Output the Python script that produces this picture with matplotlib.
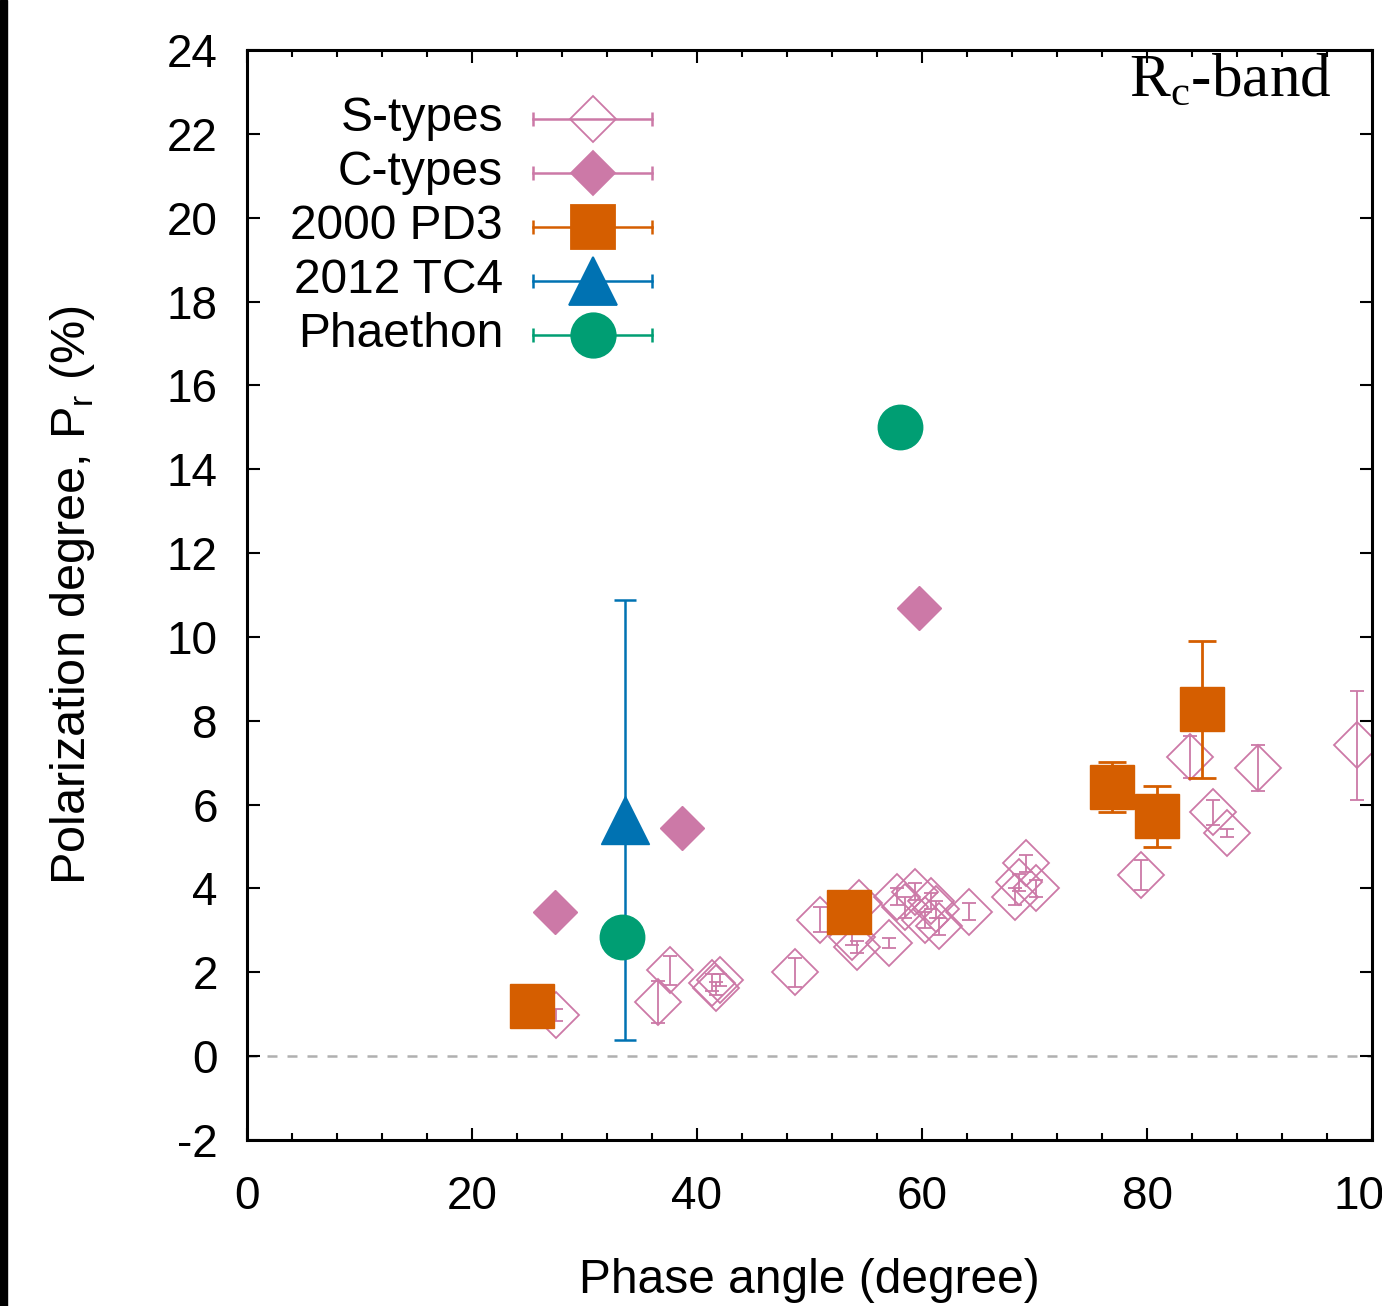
import matplotlib
matplotlib.use("Agg")
import matplotlib.pyplot as plt
from matplotlib.ticker import MultipleLocator
from matplotlib.patches import Rectangle

plt.rcParams['font.family'] = ['Liberation Sans', 'DejaVu Sans']
plt.rcParams['mathtext.fontset'] = 'custom'
plt.rcParams['mathtext.rm'] = 'Liberation Serif'
plt.rcParams['mathtext.sf'] = 'Liberation Sans'
plt.rcParams['axes.unicode_minus'] = False

# S-types (open diamonds)
s_phase = [27.5, 36.5, 37.6, 41.3, 41.7, 42.0, 48.7, 50.9, 54.4, 53.8, 54.2, 57.1,
           57.8, 58.5, 59.4, 60.3, 60.8, 61.2, 61.5, 64.2, 68.3, 68.6, 69.2, 70.1,
           79.5, 83.8, 85.9, 87.1, 89.9, 98.7]
s_pol = [0.98, 1.29, 2.05, 1.75, 1.62, 1.82, 2.0, 3.25, 3.65, 2.85, 2.6, 2.7,
         3.8, 3.55, 3.92, 3.25, 3.7, 3.5, 3.1, 3.45, 3.8, 4.15, 4.6, 4.0,
         4.32, 7.13, 5.82, 5.32, 6.87, 7.42]
s_err = [0.15, 0.5, 0.35, 0.2, 0.15, 0.15, 0.35, 0.3, 0.25, 0.2, 0.15, 0.12,
         0.2, 0.25, 0.2, 0.2, 0.2, 0.2, 0.2, 0.2, 0.2, 0.2, 0.2, 0.2,
         0.35, 0.5, 0.3, 0.1, 0.55, 1.3]

# C-types (filled diamonds)
c_phase = [27.4, 38.7, 59.7]
c_pol = [3.44, 5.44, 10.7]
c_err = [0.1, 0.1, 0.1]

# 2000 PD3
pd3_phase = [25.3, 53.5, 76.9, 80.9, 84.9]
pd3_pol = [1.19, 3.44, 6.42, 5.72, 8.27]
pd3_err = [0.15, 0.2, 0.6, 0.72, 1.64]

# 2012 TC4
tc4_phase = [33.6]
tc4_pol = [5.63]
tc4_err = [5.25]

# Phaethon
ph_phase = [33.3, 58.0]
ph_pol = [2.84, 15.0]
ph_err = [0.1, 0.1]

pink = '#cc79a7'
orange = '#d55e00'
blue = '#0072b2'
green = '#009e73'

fig = plt.figure(figsize=(13.82, 13.06), dpi=100)
ax = fig.add_axes([247 / 1382, 166 / 1306, 1125 / 1382, 1090 / 1306])
fig.patches.append(Rectangle((0, 0), 7 / 1382, 1, transform=fig.transFigure,
                             color='black', zorder=10))

ax.axhline(0, color='#b0b0b0', lw=1.8, ls=(0, (4, 4)), zorder=1)

ax.errorbar(s_phase, s_pol, yerr=s_err, fmt='D', ms=23, mfc='none', mec=pink, mew=1.3,
            ecolor=pink, elinewidth=1.3, capsize=5, capthick=1.3, zorder=2)
ax.errorbar(c_phase, c_pol, yerr=c_err, fmt='D', ms=22, mfc=pink, mec=pink,
            ecolor=pink, elinewidth=1.3, capsize=5, zorder=3)
ax.errorbar(pd3_phase, pd3_pol, yerr=pd3_err, fmt='s', ms=32, mfc=orange, mec=orange,
            ecolor=orange, elinewidth=2, capsize=10, capthick=2, zorder=4)
ax.errorbar(tc4_phase, tc4_pol, yerr=tc4_err, fmt='^', ms=35, mfc=blue, mec=blue,
            ecolor=blue, elinewidth=1.8, capsize=8, capthick=1.8, zorder=5)
ax.errorbar(ph_phase, ph_pol, yerr=ph_err, fmt='o', ms=32, mfc=green, mec=green,
            ecolor=green, elinewidth=2, capsize=8, zorder=6)

# gnuplot-style key
key = [('S-types', 'D', 23, 'none', pink),
       ('C-types', 'D', 22, pink, pink),
       ('2000 PD3', 's', 32, orange, orange),
       ('2012 TC4', '^', 35, blue, blue),
       ('Phaethon', 'o', 32, green, green)]
for i, (name, mk, ms, fc, col) in enumerate(key):
    yk = 0.9367 - i * 0.0495
    ax.plot([0.2542, 0.36], [yk, yk], color=col, lw=1.8, transform=ax.transAxes,
            clip_on=False, zorder=7)
    ax.plot([0.2542, 0.36], [yk, yk], ls='none', marker='|', ms=10, mew=1.8, color=col,
            transform=ax.transAxes, clip_on=False, zorder=7)
    ax.plot([0.3076], [yk], ls='none', marker=mk, ms=ms, mfc=fc, mec=col, mew=1.3,
            transform=ax.transAxes, clip_on=False, zorder=8)
    ax.text(0.2276, yk, name, ha='right', va='center', fontsize=34.5,
            transform=ax.transAxes)

ax.text(0.9644, 0.997, r'R$_\mathrm{c}$-band', family='Liberation Serif', fontsize=44,
        ha='right', va='top', transform=ax.transAxes)

ax.set_xlim(0, 100)
ax.set_ylim(-2, 24)
ax.xaxis.set_major_locator(MultipleLocator(20))
ax.xaxis.set_minor_locator(MultipleLocator(4))
ax.yaxis.set_major_locator(MultipleLocator(2))
ax.tick_params(which='both', direction='in', top=True, right=True, width=1.5)
ax.tick_params(which='major', length=9, labelsize=33)
ax.tick_params(axis='y', pad=21)
ax.tick_params(axis='x', pad=25)
ax.tick_params(which='minor', length=5)
for sp in ax.spines.values():
    sp.set_linewidth(2.2)

ax.set_xlabel('Phase angle (degree)', fontsize=34.5, labelpad=28)
ax.set_ylabel(r'Polarization degree, P$_\mathsf{r}$ (%)', fontsize=35, labelpad=50)

fig.savefig('out.png', dpi=100)
